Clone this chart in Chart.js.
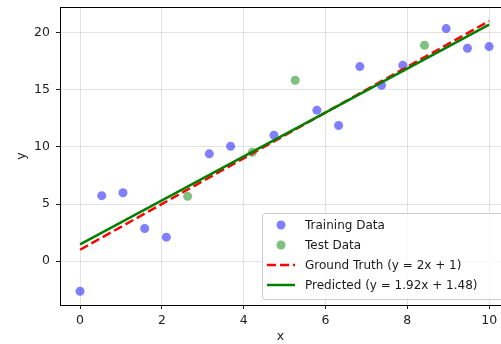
<!DOCTYPE html>
<html>
<head>
<meta charset="utf-8">
<script src="https://cdn.jsdelivr.net/npm/chart.js@4.4.1/dist/chart.umd.min.js"></script>
<style>
  html, body { margin: 0; padding: 0; background: #fff; }
  #wrap { width: 501px; height: 344px; position: relative; }
</style>
</head>
<body>
<div id="wrap"><canvas id="chart" width="501" height="344"></canvas></div>
<script>
// datos
const trainX = [0, 0.53, 1.05, 1.58, 2.11, 3.16, 3.68, 4.74, 5.79, 6.32, 6.84, 7.37, 7.89, 8.95, 9.47, 10];
const trainY = [-2.63, 5.73, 5.99, 2.86, 2.10, 9.39, 10.05, 11.02, 13.21, 11.87, 17.02, 15.38, 17.13, 20.34, 18.62, 18.77];
const testX = [2.63, 4.21, 5.26, 8.42];
const testY = [5.67, 9.53, 15.82, 18.89];
const lineX = [0, 10];
const truthY = [1, 21];
const predY = [1.48, 20.68];
const xTicks = [0, 2, 4, 6, 8, 10];
const yTicks = [0, 5, 10, 15, 20];

const FONT = "'DejaVu Sans', sans-serif";

function pares(xs, ys) {
    return xs.map((x, i) => ({ x: x, y: ys[i] }));
}

const leyendaPlugin = {
    id: 'leyenda',
    afterDraw(chart) {
        const ctx = chart.ctx;
        const area = chart.chartArea;
        ctx.save();
        // borde superior
        const top = Math.round(area.top) + 0.5;
        ctx.strokeStyle = '#000';
        ctx.lineWidth = 1;
        ctx.beginPath();
        ctx.moveTo(area.left, top);
        ctx.lineTo(area.right, top);
        ctx.stroke();

        // caja de leyenda
        const bx = 262, by = 213, bw = 260, bh = 86;
        ctx.fillStyle = 'rgba(255,255,255,0.8)';
        ctx.strokeStyle = '#cccccc';
        ctx.beginPath();
        ctx.roundRect(bx + 0.5, by + 0.5, bw, bh, 3);
        ctx.fill();
        ctx.stroke();

        ctx.font = "12px " + FONT;
        ctx.textBaseline = 'middle';
        const filas = [225, 245, 265, 285];
        chart.data.datasets.forEach((ds, i) => {
            const y = filas[i];
            if (ds.showLine) {
                ctx.strokeStyle = ds.borderColor;
                ctx.lineWidth = ds.borderWidth;
                ctx.setLineDash(ds.borderDash || []);
                ctx.beginPath();
                ctx.moveTo(267, y);
                ctx.lineTo(295, y);
                ctx.stroke();
                ctx.setLineDash([]);
            } else {
                ctx.fillStyle = ds.backgroundColor;
                ctx.beginPath();
                ctx.arc(281, y, ds.pointRadius, 0, Math.PI * 2);
                ctx.fill();
            }
            ctx.fillStyle = '#1a1a1a';
            ctx.fillText(ds.label, 305, y + 1);
        });
        ctx.restore();
    }
};

new Chart(document.getElementById('chart').getContext('2d'), {
    type: 'scatter',
    data: {
        datasets: [
            {
                label: 'Training Data',
                data: pares(trainX, trainY),
                backgroundColor: 'rgba(0,0,255,0.5)',
                borderWidth: 0,
                pointRadius: 4.5,
                order: 4
            },
            {
                label: 'Test Data',
                data: pares(testX, testY),
                backgroundColor: 'rgba(0,128,0,0.5)',
                borderWidth: 0,
                pointRadius: 4.5,
                order: 3
            },
            {
                label: 'Ground Truth (y = 2x + 1)',
                data: pares(lineX, truthY),
                showLine: true,
                borderColor: '#ff0000',
                borderWidth: 2.5,
                borderDash: [9, 4],
                pointRadius: 0,
                order: 2
            },
            {
                label: 'Predicted (y = 1.92x + 1.48)',
                data: pares(lineX, predY),
                showLine: true,
                borderColor: '#008000',
                borderWidth: 2.5,
                pointRadius: 0,
                order: 1
            }
        ]
    },
    options: {
        responsive: false,
        animation: false,
        layout: { autoPadding: false, padding: { top: 7, right: 0, left: 0, bottom: 0 } },
        plugins: {
            legend: { display: false },
            tooltip: { enabled: false }
        },
        scales: {
            x: {
                type: 'linear',
                min: -0.49,
                max: 10.29,
                afterBuildTicks: s => { s.ticks = xTicks.map(v => ({ value: v })); },
                afterFit: s => { s.height = 39; s.paddingLeft = 0; s.paddingRight = 0; },
                border: { color: '#000', width: 1 },
                grid: { color: 'rgba(176,176,176,0.35)', tickColor: '#222', tickLength: 4 },
                ticks: { color: '#222', font: { family: FONT, size: 12.5 }, padding: 4, maxRotation: 0 },
                title: { display: true, text: 'x', color: '#222', font: { family: FONT, size: 12.5 }, padding: { top: 2, bottom: 0 } }
            },
            y: {
                type: 'linear',
                min: -3.83,
                max: 22.23,
                afterBuildTicks: s => { s.ticks = yTicks.map(v => ({ value: v })); },
                afterFit: s => { s.width = 60; s.paddingTop = 0; s.paddingBottom = 0; },
                border: { color: '#000', width: 1 },
                grid: { color: 'rgba(176,176,176,0.35)', tickColor: '#222', tickLength: 4 },
                ticks: { color: '#222', font: { family: FONT, size: 12.5 }, padding: 6 },
                title: { display: true, text: 'y', color: '#222', font: { family: FONT, size: 12.5 }, padding: { top: 14, bottom: 0 } }
            }
        }
    },
    plugins: [leyendaPlugin]
});
</script>
</body>
</html>
